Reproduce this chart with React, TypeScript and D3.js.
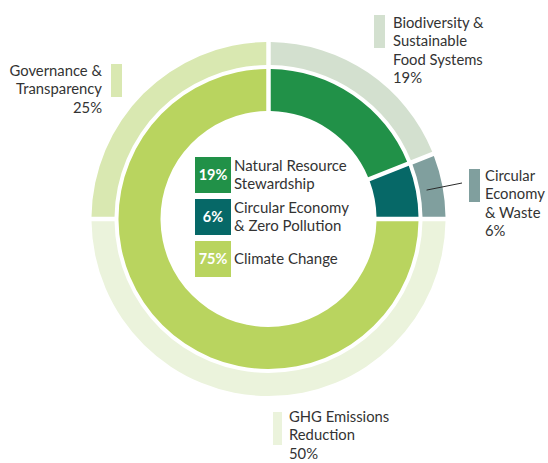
import { useEffect, useRef } from 'react'
import * as d3 from 'd3'

// outer ring: focus areas
const outerNames = [
  ['Biodiversity &', 'Sustainable', 'Food Systems'],
  ['Circular', 'Economy', '& Waste'],
  ['GHG Emissions', 'Reduction'],
  ['Governance &', 'Transparency'],
]
const outerValues = [19, 6, 50, 25]
const outerColors = ['#d3e0cf', '#809f9e', '#ebf3dc', '#d9e8b1']

// inner ring: pillars
const innerNames = [
  ['Natural Resource', 'Stewardship'],
  ['Circular Economy', '& Zero Pollution'],
  ['Climate Change'],
]
const innerValues = [19, 6, 75]
const innerColors = ['#219148', '#066867', '#b9d45f']

const FONT = 'Lato, "Noto Sans", sans-serif'

export default function App() {
  const ref = useRef<SVGSVGElement>(null)

  useEffect(() => {
    const svg = d3.select(ref.current)
    svg.selectAll('*').remove()

    const cx = 268.5, cy = 219
    const g = svg.append('g').attr('transform', `translate(${cx},${cy})`)

    const pie = d3.pie<number>().sort(null).value(d => d)

    const outerArc = d3.arc<d3.PieArcDatum<number>>()
      .innerRadius(154).outerRadius(177)
      .padAngle(0.028).padRadius(160)
    const innerArc = d3.arc<d3.PieArcDatum<number>>()
      .innerRadius(108).outerRadius(150)
      .padAngle(0.028).padRadius(160)

    g.selectAll('path.outer')
      .data(pie(outerValues))
      .join('path')
      .attr('class', 'outer')
      .attr('d', outerArc)
      .attr('fill', (d, i) => outerColors[i])

    g.selectAll('path.inner')
      .data(pie(innerValues))
      .join('path')
      .attr('class', 'inner')
      .attr('d', innerArc)
      .attr('fill', (d, i) => innerColors[i])

    // leader line for the small slice
    const waste = pie(outerValues)[1]
    const mid = (waste.startAngle + waste.endAngle) / 2
    const r0 = 165
    svg.append('line')
      .attr('x1', cx + r0 * Math.sin(mid) - 4)
      .attr('y1', cy - r0 * Math.cos(mid) + 2)
      .attr('x2', 462).attr('y2', 183)
      .attr('stroke', '#2b2b2b').attr('stroke-width', 1)

    // outer labels: [bar x, bar y, text x, first baseline, anchor]
    const labelPos: [number, number, number, number, string][] = [
      [374, 15, 393, 28, 'start'],
      [469, 169, 485, 181, 'start'],
      [273, 412, 289, 422, 'start'],
      [111, 64, 102, 76, 'end'],
    ]
    const lh = 18.3
    outerNames.forEach((lines, i) => {
      const [bx, by, tx, ty, anchor] = labelPos[i]
      svg.append('rect')
        .attr('x', bx).attr('y', by)
        .attr('width', i === 2 ? 9 : 11).attr('height', 33)
        .attr('fill', outerColors[i])
      const t = svg.append('text')
        .attr('font-family', FONT).attr('font-size', 14.8)
        .attr('fill', '#333').attr('text-anchor', anchor)
      const all = [...lines, `${outerValues[i]}%`]
      all.forEach((s, j) => {
        t.append('tspan').attr('x', tx).attr('y', ty + j * lh).text(s)
      })
    })

    // centre legend
    const boxY = [157, 199, 241]
    innerNames.forEach((lines, i) => {
      const y0 = boxY[i]
      svg.append('rect')
        .attr('x', 195).attr('y', y0)
        .attr('width', 36).attr('height', 36)
        .attr('fill', innerColors[i])
      svg.append('text')
        .attr('x', 213).attr('y', y0 + 23)
        .attr('text-anchor', 'middle')
        .attr('font-family', FONT).attr('font-size', 14.5)
        .attr('font-weight', 700).attr('fill', '#fff')
        .text(`${innerValues[i]}%`)
      const t = svg.append('text')
        .attr('font-family', FONT).attr('font-size', 15)
        .attr('fill', '#333')
      const first = lines.length === 1 ? y0 + 22.5 : y0 + 14
      lines.forEach((s, j) => {
        t.append('tspan').attr('x', 234).attr('y', first + j * 17.8).text(s)
      })
    })
  }, [])

  return (
    <svg
      ref={ref}
      width={548}
      height={463}
      style={{ position: 'absolute', left: 0, top: 0, background: '#fff' }}
    />
  )
}
